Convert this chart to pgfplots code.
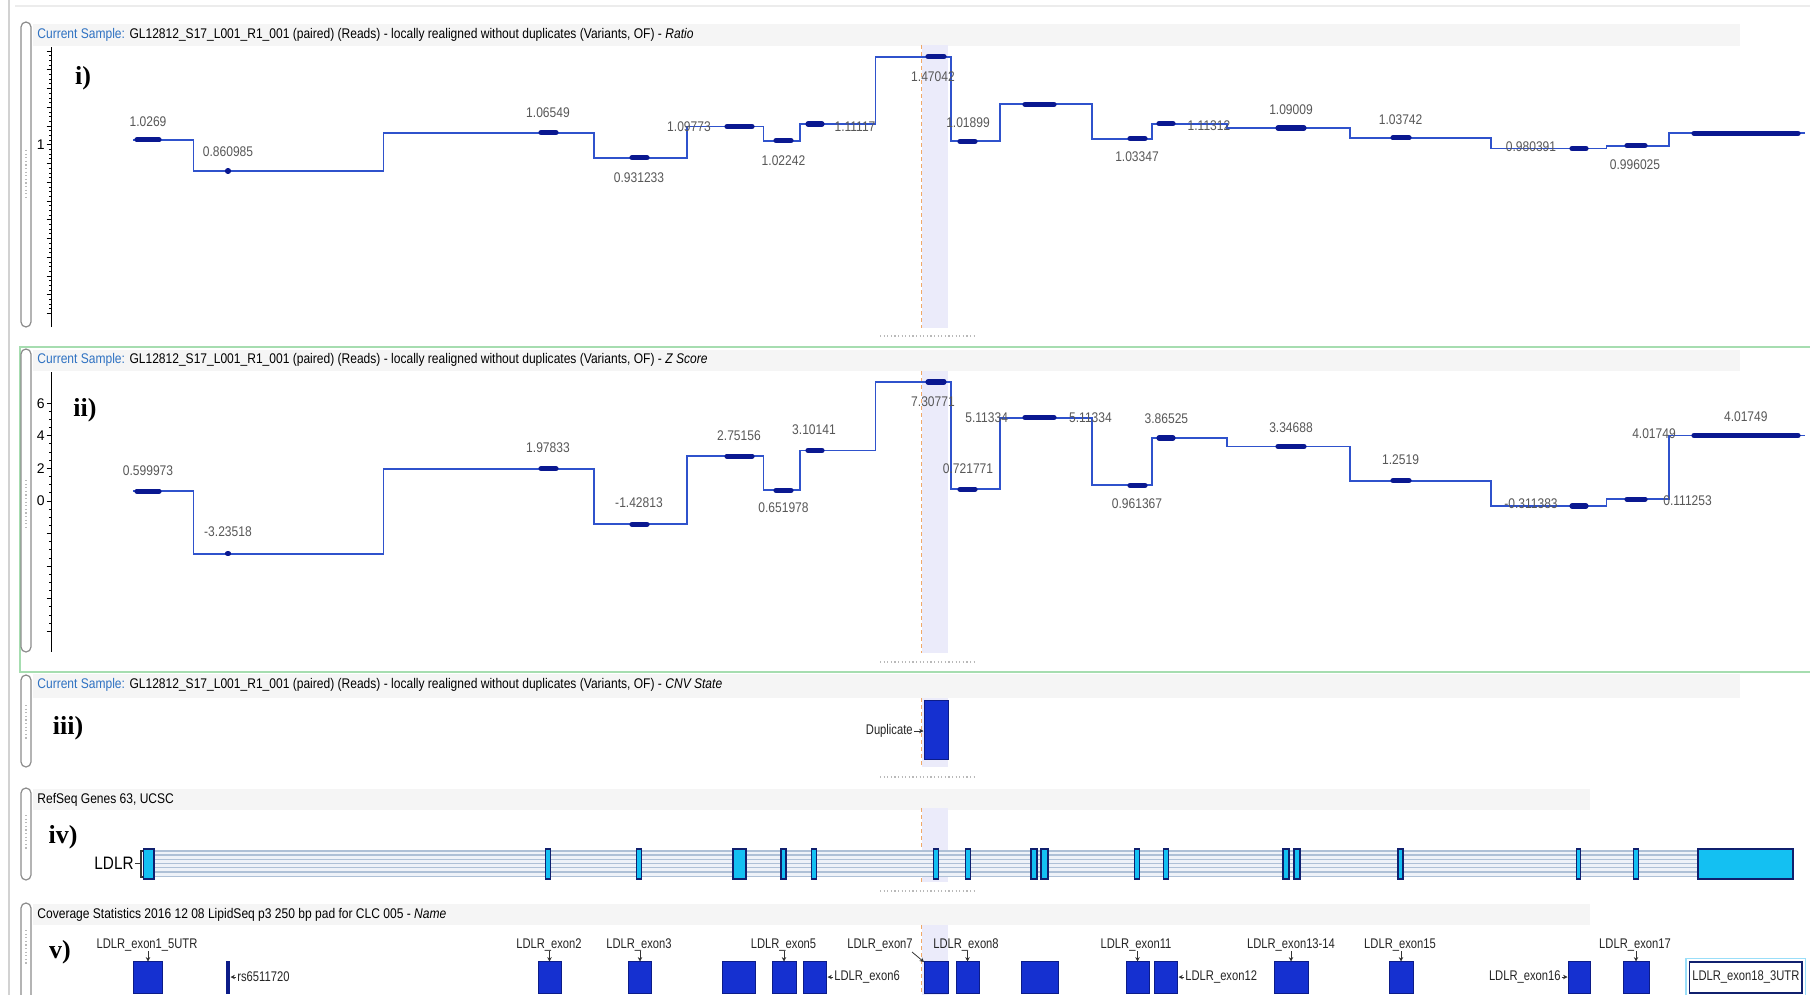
\documentclass[border=0pt]{standalone}
\usepackage{fontspec}
\setmainfont{Liberation Sans}
\newfontfamily\pserif{Liberation Serif}
\usepackage{graphicx}
\usepackage{pgfplots}
\pgfplotsset{compat=1.18}
\usetikzlibrary{arrows.meta}
\definecolor{stepblue}{HTML}{2F52CC}
\definecolor{markblue}{HTML}{0A1890}
\definecolor{labgray}{HTML}{585858}
\definecolor{hdrblue}{HTML}{2F72C2}
\definecolor{bandlav}{HTML}{EBEBFA}
\definecolor{dashorange}{HTML}{F0A868}
\definecolor{frgreen}{HTML}{A6DDB0}
\definecolor{covblue}{HTML}{1530D0}
\definecolor{covedge}{HTML}{0C1C88}
\definecolor{exoncyan}{HTML}{14C0F2}
\definecolor{exonedge}{HTML}{10206E}
\definecolor{geneline}{HTML}{AEC0D6}
\definecolor{genefill}{HTML}{EEF2F8}
\definecolor{hdrband}{HTML}{F5F5F5}
\definecolor{brk}{HTML}{8C8C8C}
\newcommand\sx[1]{\scalebox{0.8}[1]{#1}}
\newcommand\sn[1]{\scalebox{0.86}[1]{#1}}
\newcommand\gbox[2]{\addplot[fill=exoncyan, draw=exonedge, line width=0.6pt] coordinates {(#1,0) (#2,0) (#2,1) (#1,1)} --cycle;}
\newcommand\cbox[2]{\addplot[fill=covblue, draw=covedge, line width=0.5pt] coordinates {(#1,0) (#2,0) (#2,1) (#1,1)} --cycle;}
\pgfplotsset{
  trackaxis/.style={scale only axis, xmin=51.7, xmax=1810, width=879.15pt, clip=false, anchor=south west, unbounded coords=jump},
  valaxis/.style={trackaxis, axis x line=none, axis y line=left, axis line style={-, line width=0.6pt},
    tick align=outside, major tick length=2.5pt, minor tick length=1.2pt, minor y tick num=3,
    tick style={black, line width=0.5pt},
    yticklabel style={font=\fontsize{7}{8}\selectfont, inner sep=0.8pt},
    /pgf/number format/assume math mode=true},
}
\tikzset{
  num/.style={font=\fontsize{7}{8}\selectfont, text=labgray, inner sep=0pt},
  hdr/.style={font=\fontsize{7}{8}\selectfont, anchor=west, inner sep=0pt},
  plab/.style={font=\pserif\bfseries\fontsize{13}{14}\selectfont, inner sep=0pt},
  exl/.style={font=\fontsize{7}{8}\selectfont, text=black!85, inner sep=0pt},
  grip/.style={gray!55, line width=0.8pt, dash pattern=on 0.6pt off 1.2pt},
  brkt/.style={brk, rounded corners=2.5pt, line width=0.6pt, fill=white},
  dsh/.style={dashorange, line width=0.5pt, dash pattern=on 2pt off 1.5pt},
  arr/.style={-{Stealth[length=2.2pt,width=2.2pt]}, line width=0.4pt, black!80},
}
\begin{document}
\begin{tikzpicture}[x=0.5pt,y=-0.5pt]
\useasboundingbox (0,0) rectangle (1810,995);
\fill[white] (0,0) rectangle (1810,995);
\draw[gray!35, line width=0.8pt] (9,0) -- (9,995);
\draw[gray!15, line width=0.8pt] (15,6) -- (1810,6);
% header bands
\fill[hdrband] (33,24) rectangle (1740,46);
\fill[hdrband] (33,350) rectangle (1740,371);
\fill[hdrband] (33,674) rectangle (1740,698);
\fill[hdrband] (33,789) rectangle (1590,810);
\fill[hdrband] (33,904) rectangle (1590,925);
% green frame of panel ii
\draw[frgreen, line width=1.2pt] (20,347) rectangle (1815,671.7);
% selection band
\fill[bandlav] (921.5,45) rectangle (948,328);
\fill[bandlav] (921.5,371) rectangle (948,653);
\fill[bandlav] (921.5,698) rectangle (948,767);
\fill[bandlav] (921.5,808) rectangle (948,882);
\fill[bandlav] (921.5,925) rectangle (948,995);
\draw[dsh] (921.5,45) -- (921.5,328);
\draw[dsh] (921.5,371) -- (921.5,653);
\draw[dsh] (921.5,698) -- (921.5,767);
\draw[dsh] (921.5,808) -- (921.5,882);
\draw[dsh] (921.5,925) -- (921.5,995);
% brackets
\draw[brkt] (21,22) rectangle (31,327);
\draw[brkt] (21,349) rectangle (31,652);
\draw[brkt] (21,675) rectangle (31,767);
\draw[brkt] (21,788) rectangle (31,880);
\draw[brkt] (21,903) rectangle (31,1000);
\draw[grip] (26,150) -- (26,200);
\draw[grip] (26,480) -- (26,530);
\draw[grip] (26,705) -- (26,740);
\draw[grip] (26,815) -- (26,850);
\draw[grip] (26,930) -- (26,965);
% grips
\draw[grip] (880,336) -- (975,336);
\draw[grip] (880,662) -- (975,662);
\draw[grip] (880,777) -- (975,777);
\draw[grip] (880,891) -- (975,891);

% ---------- panel i : Ratio ----------
\begin{axis}[valaxis, at={(25.85pt,-163.5pt)}, height=140.15pt, ymin=0.0288, ymax=1.5237,
  ytick={0.1,0.2,0.3,0.4,0.5,0.6,0.7,0.8,0.9,1,1.1,1.2,1.3,1.4,1.5},
  yticklabels={,,,,,,,,,1,,,,,}]
\addplot[const plot, stepblue, line width=0.9pt] coordinates {
 (133,1.0269) (193.5,0.860985) (383.4,1.06549) (594,0.931233) (687,1.09773)
 (763.5,1.02242) (799.6,1.11117) (875.4,1.47042) (951,1.01899) (1000,1.2165)
 (1092,1.03347) (1151.6,1.11312) (1227,1.09009) (1349.7,1.03742) (1490.8,0.980391)
 (1606.4,0.996025) (1668.7,1.0619) (1805,1.0619)};
\addplot[markblue, line width=2.6pt, line cap=round] coordinates {
 (137,1.0269) (159,1.0269) (160,nan)
 (227.5,0.860985) (228.5,0.860985) (229,nan)
 (541,1.06549) (556,1.06549) (557,nan)
 (632,0.931233) (647,0.931233) (648,nan)
 (727,1.09773) (752,1.09773) (753,nan)
 (776,1.02242) (791,1.02242) (792,nan)
 (808,1.11117) (822,1.11117) (823,nan)
 (928,1.47042) (944,1.47042) (945,nan)
 (960,1.01899) (975,1.01899) (976,nan)
 (1025,1.2165) (1054,1.2165) (1055,nan)
 (1130,1.03347) (1145,1.03347) (1146,nan)
 (1159,1.11312) (1173,1.11312) (1174,nan)
 (1278,1.09009) (1304,1.09009) (1305,nan)
 (1393,1.03742) (1409,1.03742) (1410,nan)
 (1572,0.980391) (1586,0.980391) (1587,nan)
 (1627,0.996025) (1645,0.996025) (1646,nan)
 (1694,1.0619) (1798,1.0619)};
\end{axis}

% ---------- panel ii : Z score ----------
\begin{axis}[valaxis, at={(25.85pt,-325.85pt)}, height=140pt, ymin=-9.245, ymax=7.933,
  ytick={-8,-6,-4,-2,0,2,4,6}, yticklabels={,,,,0,2,4,6}]
\addplot[const plot, stepblue, line width=0.9pt] coordinates {
 (133,0.599973) (193.5,-3.23518) (383.4,1.97833) (594,-1.42813) (687,2.75156)
 (763.5,0.651978) (799.6,3.10141) (875.4,7.30771) (951,0.721771) (1000,5.11334)
 (1092,0.961367) (1151.6,3.86525) (1227,3.34688) (1349.7,1.2519) (1490.8,-0.311383)
 (1606.4,0.111253) (1668.7,4.01749) (1805,4.01749)};
\addplot[markblue, line width=2.6pt, line cap=round] coordinates {
 (137,0.599973) (159,0.599973) (160,nan)
 (227.5,-3.23518) (228.5,-3.23518) (229,nan)
 (541,1.97833) (556,1.97833) (557,nan)
 (632,-1.42813) (647,-1.42813) (648,nan)
 (727,2.75156) (752,2.75156) (753,nan)
 (776,0.651978) (791,0.651978) (792,nan)
 (808,3.10141) (822,3.10141) (823,nan)
 (928,7.30771) (944,7.30771) (945,nan)
 (960,0.721771) (975,0.721771) (976,nan)
 (1025,5.11334) (1054,5.11334) (1055,nan)
 (1130,0.961367) (1145,0.961367) (1146,nan)
 (1159,3.86525) (1173,3.86525) (1174,nan)
 (1278,3.34688) (1304,3.34688) (1305,nan)
 (1393,1.2519) (1409,1.2519) (1410,nan)
 (1572,-0.311383) (1586,-0.311383) (1587,nan)
 (1627,0.111253) (1645,0.111253) (1646,nan)
 (1694,4.01749) (1798,4.01749)};
\end{axis}

% ---------- panel iii : CNV state ----------
\begin{axis}[trackaxis, hide axis, at={(25.85pt,-379.5pt)}, height=29.15pt, ymin=0, ymax=1]
\cbox{924.5}{948.2}
\end{axis}

% ---------- panel iv : RefSeq genes ----------
\begin{axis}[trackaxis, hide axis, at={(25.85pt,-439.5pt)}, height=15pt, ymin=0, ymax=1]
\addplot[fill=genefill, draw=none] coordinates {(150,0.08) (1700,0.08) (1700,0.94) (150,0.94)} --cycle;
\addplot[geneline, line width=0.7pt] coordinates {
 (150,0.08) (1700,0.08) (1701,nan) (150,0.23) (1700,0.23) (1701,nan)
 (150,0.38) (1700,0.38) (1701,nan) (150,0.52) (1700,0.52) (1701,nan)
 (150,0.66) (1700,0.66) (1701,nan) (150,0.80) (1700,0.80) (1701,nan)
 (150,0.94) (1700,0.94)};
\gbox{143.5}{154}
\gbox{545.5}{550.5}
\gbox{636.5}{641.5}
\gbox{733}{746}
\gbox{781}{786}
\gbox{811.5}{816.5}
\gbox{933.5}{938.5}
\gbox{965.5}{970.5}
\gbox{1031}{1037}
\gbox{1041}{1048}
\gbox{1134.5}{1139.5}
\gbox{1163.5}{1168.5}
\gbox{1283}{1289}
\gbox{1294}{1300}
\gbox{1398}{1403}
\gbox{1576.5}{1580.5}
\gbox{1633.5}{1638.5}
\gbox{1698}{1793}
\end{axis}

% ---------- panel v : coverage targets ----------
\begin{axis}[trackaxis, hide axis, at={(25.85pt,-496.5pt)}, height=15.65pt, ymin=0, ymax=1]
\cbox{133.7}{162.4}
\addplot[fill=covedge, draw=covedge, line width=0.4pt] coordinates {(226.5,0) (229.5,0) (229.5,1) (226.5,1)} --cycle;
\cbox{538}{561}
\cbox{628.5}{651.5}
\cbox{722}{755}
\cbox{772}{796}
\cbox{803.6}{826.5}
\cbox{924.5}{948}
\cbox{956}{979}
\cbox{1021}{1058}
\cbox{1126}{1149}
\cbox{1154.5}{1177.7}
\cbox{1274}{1308}
\cbox{1389}{1413}
\cbox{1568}{1590}
\cbox{1623}{1649}
\addplot[fill=white, draw=exonedge, line width=0.8pt] coordinates {(1689.6,0) (1802,0) (1802,1) (1689.6,1)} --cycle;
\end{axis}
\draw[cyan!40, line width=0.6pt] (1686,958.5) rectangle (1805.5,996);

% ---------- headers ----------
\node[hdr] at (37,35) {\sn{\textcolor{hdrblue}{Current Sample:} GL12812\_S17\_L001\_R1\_001 (paired) (Reads) - locally realigned without duplicates (Variants, OF) - \textit{Ratio}}};
\node[hdr] at (37,360) {\sn{\textcolor{hdrblue}{Current Sample:} GL12812\_S17\_L001\_R1\_001 (paired) (Reads) - locally realigned without duplicates (Variants, OF) - \textit{Z Score}}};
\node[hdr] at (37,685) {\sn{\textcolor{hdrblue}{Current Sample:} GL12812\_S17\_L001\_R1\_001 (paired) (Reads) - locally realigned without duplicates (Variants, OF) - \textit{CNV State}}};
\node[hdr] at (37,800) {\sn{RefSeq Genes 63, UCSC}};
\node[hdr] at (37,915) {\sn{Coverage Statistics 2016 12 08 LipidSeq p3 250 bp pad for CLC 005 - \textit{Name}}};

% ---------- panel labels ----------
\node[plab] at (83,78) {i)};
\node[plab] at (85,410) {ii)};
\node[plab] at (68,728) {iii)};
\node[plab] at (63,837) {iv)};
\node[plab] at (60,952) {v)};

% ---------- ratio labels ----------
\node[num] at (148,122) {\sn{1.0269}};
\node[num] at (228,152) {\sn{0.860985}};
\node[num] at (548,113) {\sn{1.06549}};
\node[num] at (639,177.7) {\sn{0.931233}};
\node[num] at (689,126.7) {\sn{1.09773}};
\node[num] at (783.5,161) {\sn{1.02242}};
\node[num] at (855,126.7) {\sn{1.11117}};
\node[num] at (933,76.7) {\sn{1.47042}};
\node[num] at (968,123) {\sn{1.01899}};
\node[num] at (1137,156.7) {\sn{1.03347}};
\node[num] at (1209,126) {\sn{1.11312}};
\node[num] at (1291,110) {\sn{1.09009}};
\node[num] at (1400.6,120) {\sn{1.03742}};
\node[num] at (1531,146.7) {\sn{0.980391}};
\node[num] at (1635,164.3) {\sn{0.996025}};

% ---------- z score labels ----------
\node[num] at (148,471) {\sn{0.599973}};
\node[num] at (228,531.7) {\sn{-3.23518}};
\node[num] at (548,448) {\sn{1.97833}};
\node[num] at (639,503) {\sn{-1.42813}};
\node[num] at (739,436) {\sn{2.75156}};
\node[num] at (783.5,507.7) {\sn{0.651978}};
\node[num] at (814,430) {\sn{3.10141}};
\node[num] at (933,401.7) {\sn{7.30771}};
\node[num] at (986.7,417.7) {\sn{5.11334}};
\node[num] at (1090.5,417.7) {\sn{5.11334}};
\node[num] at (968,468.3) {\sn{0.721771}};
\node[num] at (1166.4,419) {\sn{3.86525}};
\node[num] at (1137,503.3) {\sn{0.961367}};
\node[num] at (1291,427.3) {\sn{3.34688}};
\node[num] at (1400.6,459.3) {\sn{1.2519}};
\node[num] at (1531,504) {\sn{-0.311383}};
\node[num] at (1687.6,500.7) {\sn{0.111253}};
\node[num] at (1654,434) {\sn{4.01749}};
\node[num] at (1745.8,416.7) {\sn{4.01749}};

% ---------- CNV label ----------
\node[exl, anchor=east] at (913,731) {\sx{Duplicate}};
\draw[arr] (914,731) -- (923.5,731);

% ---------- gene label ----------
\node[inner sep=0pt, anchor=east, font=\fontsize{9}{10}\selectfont] at (134,863) {\scalebox{0.85}[1]{LDLR}};
\draw[black!80, line width=0.5pt] (135,863) -- (141,863);
\draw[black!80, line width=0.6pt] (143,851) -- (141,851) -- (141,877) -- (143,877);

% ---------- coverage labels ----------
\node[exl] at (147,945) {\sx{LDLR\_exon1\_5UTR}};
\draw[arr] (148,951) -- (148,961.5);
\node[exl] at (549,945) {\sx{LDLR\_exon2}};
\draw[arr] (549.5,951) -- (549.5,961.5);
\node[exl] at (639,945) {\sx{LDLR\_exon3}};
\draw[arr] (640,951) -- (640,961.5);
\node[exl] at (783.5,945) {\sx{LDLR\_exon5}};
\draw[arr] (784,951) -- (784,961.5);
\node[exl] at (880,945) {\sx{LDLR\_exon7}};
\draw[arr] (912,952) -- (924,962);
\node[exl] at (966,945) {\sx{LDLR\_exon8}};
\draw[arr] (967.5,951) -- (967.5,961.5);
\node[exl] at (1136,945) {\sx{LDLR\_exon11}};
\draw[arr] (1137.5,951) -- (1137.5,961.5);
\node[exl] at (1291,945) {\sx{LDLR\_exon13-14}};
\draw[arr] (1291,951) -- (1291,961.5);
\node[exl] at (1400,945) {\sx{LDLR\_exon15}};
\draw[arr] (1401,951) -- (1401,961.5);
\node[exl] at (1635,945) {\sx{LDLR\_exon17}};
\draw[arr] (1636,951) -- (1636,961.5);
\draw[arr] (236,977) -- (230.5,977);
\node[exl, anchor=west] at (237,977) {\sx{rs6511720}};
\draw[arr] (833,977) -- (827.5,977);
\node[exl, anchor=west] at (834,977) {\sx{LDLR\_exon6}};
\draw[arr] (1184,977) -- (1178.5,977);
\node[exl, anchor=west] at (1185,977) {\sx{LDLR\_exon12}};
\node[exl, anchor=east] at (1561,977) {\sx{LDLR\_exon16}};
\draw[arr] (1561.5,977) -- (1567.5,977);
\node[exl] at (1745.8,977) {\sx{LDLR\_exon18\_3UTR}};
\end{tikzpicture}
\end{document}
